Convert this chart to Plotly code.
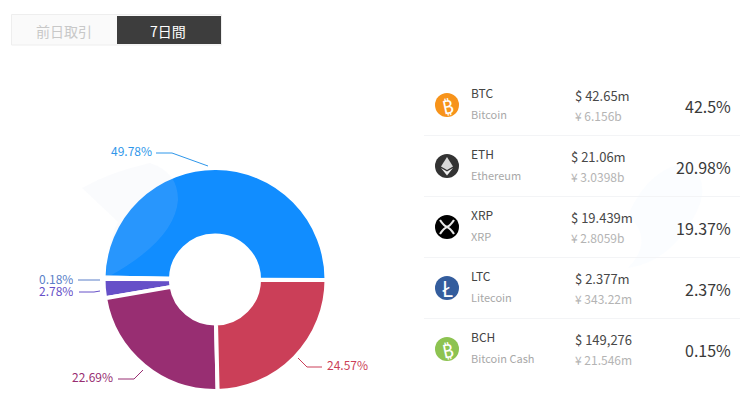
import plotly.graph_objects as go

shares = [49.78, 0.18, 2.78, 22.69, 24.57]
share_labels = ["49.78%", "0.18%", "2.78%", "22.69%", "24.57%"]
slice_colors = ["#118dff", "#5a7fc8", "#6650c8", "#982e72", "#cb3f58"]

tickers = ["BTC", "ETH", "XRP", "LTC", "BCH"]
names = ["Bitcoin", "Ethereum", "XRP", "Litecoin", "Bitcoin Cash"]
usd = ["$ 42.65m", "$ 21.06m", "$ 19.439m", "$ 2.377m", "$ 149,276"]
cny = ["¥ 6.156b", "¥ 3.0398b", "¥ 2.8059b", "¥ 343.22m", "¥ 21.546m"]
pct = ["42.5%", "20.98%", "19.37%", "2.37%", "0.15%"]
icon_colors = ["#f7931a", "#333333", "#000000", "#345d9d", "#8dc351"]
icon_glyphs = ["₿", "", "", "Ł", "₿"]
tabs = ["前日取引", "7日間"]

W, H = 740, 405
FONT = "Noto Sans CJK JP, Noto Sans, sans-serif"

fig = go.Figure()
cx, cy, r = 215, 279.5, 111.5
fig.add_trace(go.Pie(
    values=shares, labels=share_labels, hole=0.395, sort=False, direction="counterclockwise",
    rotation=271, textinfo="none", hoverinfo="skip", showlegend=False,
    marker=dict(colors=slice_colors, line=dict(color="white", width=4)),
    domain=dict(x=[(cx - r) / W, (cx + r) / W], y=[1 - (cy + r) / H, 1 - (cy - r) / H]),
))
fig.add_trace(go.Scatter(x=[0, W], y=[0, H], mode="markers", marker=dict(opacity=0), hoverinfo="skip", showlegend=False))

shapes, ann = [], []
def text(x, y, s, color, size, anchor="left", angle=0, height=None):
    ann.append(dict(x=x, y=y - 1.5, text=s, showarrow=False, xanchor=anchor, yanchor="middle",
                    borderpad=0, borderwidth=0, textangle=angle, height=height,
                    font=dict(color=color, size=size, family=FONT), xref="x", yref="y"))
def line(points, color, width=1):
    d = "M " + " L ".join(f"{a} {b}" for a, b in points)
    shapes.append(dict(type="path", path=d, line=dict(color=color, width=width), xref="x", yref="y"))

# tabs
shapes.append(dict(type="rect", x0=11.5, y0=14.5, x1=221.5, y1=45, fillcolor="#fafafa",
                   line=dict(color="#eeeeee", width=1), xref="x", yref="y"))
shapes.append(dict(type="rect", x0=117, y0=16, x1=221, y1=44, fillcolor="#3d3d3d",
                   line=dict(width=0), xref="x", yref="y"))
text(64, 32.5, tabs[0], "#c8c8c8", 14, "center")
text(168, 32.5, tabs[1], "#ffffff", 14, "center")

# faint background wash
shapes.append(dict(type="path", path="M 82 188 Q 110 172 150 163 Q 178 172 178 200 Q 175 240 108 277 L 106 277 Q 108 240 118 222 Q 100 205 82 188 Z",
                   fillcolor="rgba(210,220,240,0.12)", line=dict(width=0), xref="x", yref="y"))
shapes.append(dict(type="path", path="M 628 215 Q 650 165 690 163 Q 712 185 695 215 Q 670 262 628 268 Q 655 240 628 215 Z",
                   fillcolor="rgba(225,238,255,0.14)", line=dict(width=0), xref="x", yref="y"))

# leader lines + labels
line([(156, 153), (172, 153), (208, 166)], "#2f97ea")
text(152, 152, share_labels[0], "#2f97ea", 12, "right")
line([(78, 280), (100, 280)], "#5a7fc8")
text(73, 280, share_labels[1], "#5a7fc8", 12, "right", height=11)
line([(79, 292), (94, 292), (100, 291)], "#6650c8")
text(73, 292, share_labels[2], "#6650c8", 12, "right", height=11)
line([(118, 379), (134, 379), (143, 370)], "#982e72")
text(113, 378, share_labels[3], "#982e72", 12, "right")
line([(298, 358), (307, 367), (322, 367)], "#cb3f58")
text(327, 366, share_labels[4], "#cb3f58", 12, "left")

# table rows
rows_y = [105, 166, 227, 288, 349]
usd_x = [575, 570.5, 570.5, 575, 575]
for i, y in enumerate(rows_y):
    if i < 4:
        line([(424, y + 30.5), (740, y + 30.5)], "#f3f4f6")
    shapes.append(dict(type="circle", x0=435, x1=459, y0=y - 12, y1=y + 12, fillcolor=icon_colors[i],
                       line=dict(width=0), xref="x", yref="y"))
    if icon_glyphs[i]:
        text(447, y + 1.5, icon_glyphs[i], "#ffffff", 19 if i != 3 else 21, "center", -12 if i != 3 else 0)
    text(471, y - 11, tickers[i], "#444444", 12)
    text(471, y + 10, names[i], "#a8a8a8", 11)
    text(usd_x[i], y - 8.5, usd[i], "#484848", 13)
    text(usd_x[i], y + 12, cny[i], "#b4b4b4", 12)
    text(730.5, y + 2, pct[i], "#3a3a3a", 16, "right")

# Ethereum diamond and XRP cross
ey, xy = rows_y[1], rows_y[2]
shapes.append(dict(type="path", path=f"M 447 {ey-9} L 453 {ey+0.5} L 447 {ey+4} L 441 {ey+0.5} Z",
                   fillcolor="#d8d8d8", line=dict(width=0), xref="x", yref="y"))
shapes.append(dict(type="path", path=f"M 441 {ey+2} L 447 {ey+5.5} L 453 {ey+2} L 447 {ey+9.5} Z",
                   fillcolor="#eeeeee", line=dict(width=0), xref="x", yref="y"))
shapes.append(dict(type="path", path=f"M 440 {xy-7} Q 444 {xy-1} 447 {xy} Q 450 {xy-1} 454 {xy-7} M 440 {xy+7} Q 444 {xy+1} 447 {xy} Q 450 {xy+1} 454 {xy+7}",
                   line=dict(color="#e8e8e8", width=2.2), xref="x", yref="y"))

fig.update_layout(
    width=W, height=H, margin=dict(l=0, r=0, t=0, b=0), paper_bgcolor="white", plot_bgcolor="rgba(0,0,0,0)",
    xaxis=dict(range=[0, W], visible=False, fixedrange=True, domain=[0, 1]),
    yaxis=dict(range=[H, 0], visible=False, fixedrange=True, domain=[0, 1]),
    shapes=shapes, annotations=ann, font=dict(family=FONT),
)
fig.write_html("out.html", config=dict(displayModeBar=False),
               post_script="document.body.style.margin='0';document.body.style.overflow='hidden';")
